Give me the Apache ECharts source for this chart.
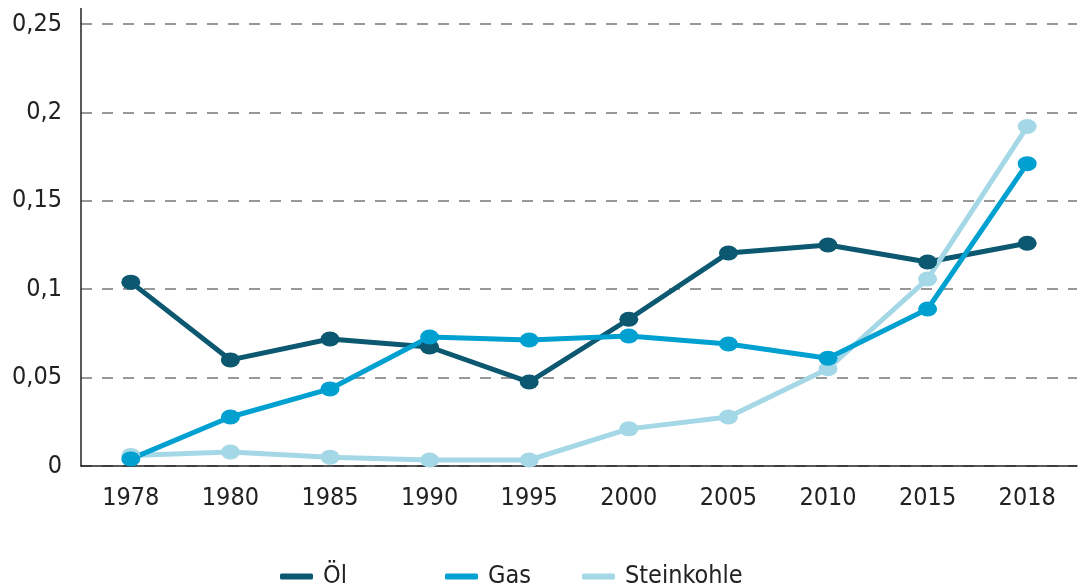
<!DOCTYPE html>
<html>
<head>
	<meta charset="utf-8">
	<title>Öl, Gas, Steinkohle</title>
	<script src="https://cdn.jsdelivr.net/npm/echarts@6/dist/echarts.min.js"></script>
	<style>
	html, body { margin: 0; height: 100%; background: #fff; }
	#main { width: 1086px; height: 588px; }
	</style>
</head>
<body>
<div id="main"></div>
<script>
	var years = ['1978', '1980', '1985', '1990', '1995', '2000', '2005', '2010', '2015', '2018'];
	var oel = [0.104, 0.060, 0.0718, 0.0673, 0.0475, 0.083, 0.1205, 0.125, 0.1154, 0.126];
	var gas = [0.004, 0.0277, 0.0436, 0.073, 0.0713, 0.0735, 0.069, 0.061, 0.0888, 0.171];
	var kohle = [0.006, 0.0079, 0.005, 0.0034, 0.0034, 0.021, 0.0277, 0.055, 0.1058, 0.192];

	var FONT = '"Liberation Sans Narrow", "DejaVu Sans Condensed", "Noto Sans", sans-serif';
	var colors = { 'Öl': '#0b5870', 'Gas': '#00a0d1', 'Steinkohle': '#a5d8e6' };

	var myChart = echarts.init(document.getElementById('main'));

	function line(name, data) {
		return {
			name: name,
			type: 'line',
			data: data,
			symbol: 'circle',
			symbolSize: [19, 15],
			lineStyle: { width: 5, color: colors[name] },
			itemStyle: { color: colors[name] },
			animation: false
		};
	}

	// one legend per item, the gaps in the original are uneven
	function legend(name, left) {
		return {
			data: [name],
			left: left,
			top: 564,
			padding: 0,
			icon: 'roundRect',
			itemWidth: 33,
			itemHeight: 6,
			itemGap: 0,
			textStyle: { fontFamily: FONT, fontSize: 25, color: '#222', padding: [0, 0, 0, 5] }
		};
	}

	var option = {
		animation: false,
		grid: { left: 81, right: 9, top: 24, bottom: 122 },
		legend: [legend('Öl', 280), legend('Gas', 445), legend('Steinkohle', 582)],
		xAxis: {
			type: 'category',
			data: years,
			axisLine: { lineStyle: { color: '#222', width: 1.5 } },
			axisTick: { show: false },
			axisLabel: { fontFamily: FONT, fontSize: 25, color: '#222', margin: 20 }
		},
		yAxis: {
			type: 'value',
			min: 0,
			max: 0.25,
			interval: 0.05,
			axisLine: { show: true, lineStyle: { color: '#222', width: 1.5 } },
			axisTick: { show: false },
			axisLabel: {
				fontFamily: FONT, fontSize: 25, color: '#222', margin: 19,
				formatter: function (v) { return String(+v.toFixed(2)).replace('.', ','); }
			},
			splitLine: { lineStyle: { color: '#777', width: 1.5, type: [11, 10] } }
		},
		graphic: [{
			type: 'line',
			shape: { x1: 81, y1: 8, x2: 81, y2: 24 },
			style: { stroke: '#222', lineWidth: 1.5 }
		}],
		series: [line('Öl', oel), line('Steinkohle', kohle), line('Gas', gas)]
	};
	myChart.setOption(option);
</script>
</body>
</html>
